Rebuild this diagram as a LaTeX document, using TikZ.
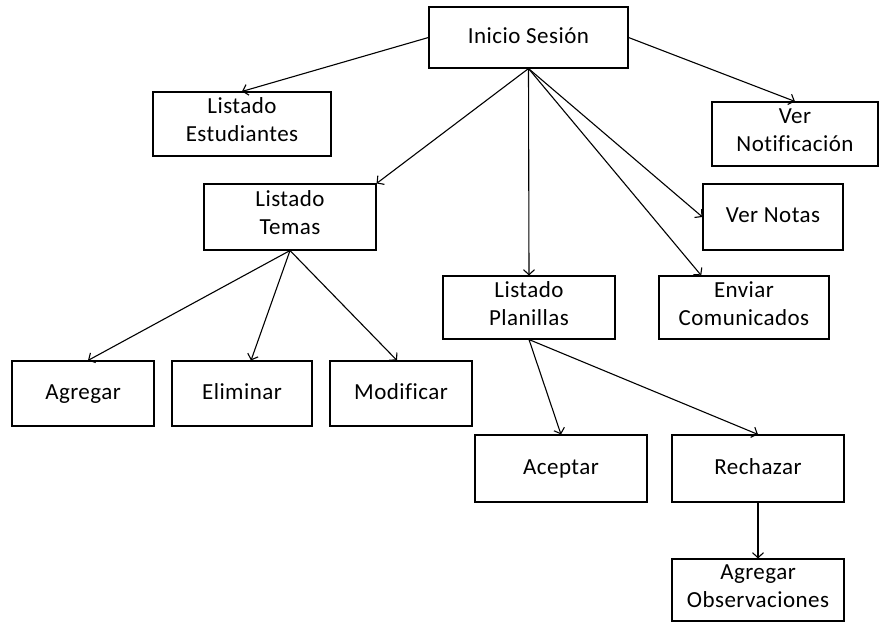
\documentclass[tikz,border=0pt]{standalone}
\usepackage{fontspec}
\setmainfont[LetterSpace=2,Ligatures=NoCommon]{Carlito}
\usetikzlibrary{arrows.meta,calc}
\tikzset{>={Straight Barb[length=5pt,width=11pt]}}
\tikzset{caja/.style={draw,line width=1.1pt,align=center,inner sep=0pt,font=\fontsize{23}{28}\selectfont,
    execute at begin node=\strut,execute at end node=\strut},
  flecha/.style={->,line width=1.1pt}}

\begin{document}
\begin{tikzpicture}[x=1pt,y=-1pt]
      \useasboundingbox (0,0) rectangle (879,623);

      % primer nivel
      \node[caja,minimum width=199pt,minimum height=61pt] (ini) at (528.5,37.5) {Inicio Sesión};
      \node[caja,minimum width=178pt,minimum height=64pt] (est) at (242,124) {Listado\\Estudiantes};
      \node[caja,minimum width=166pt,minimum height=64pt] (ntf) at (795,134) {Ver\\Notificación};
      \node[caja,minimum width=172pt,minimum height=66pt] (tem) at (290,217) {Listado\\Temas};
      \node[caja,minimum width=140pt,minimum height=66pt] (nta) at (773,217) {Ver Notas};
      \node[caja,minimum width=172pt,minimum height=63pt] (pla) at (529,307.5) {Listado\\Planillas};
      \node[caja,minimum width=170pt,minimum height=63pt] (env) at (744,307.5) {Enviar\\Comunicados};

      % temas
      \node[caja,minimum width=142pt,minimum height=65pt] (agr) at (83,393.5) {Agregar};
      \node[caja,minimum width=140pt,minimum height=65pt] (eli) at (242,393.5) {Eliminar};
      \node[caja,minimum width=142pt,minimum height=65pt] (mod) at (401,393.5) {Modificar};

      % planillas
      \node[caja,minimum width=172pt,minimum height=67pt] (acp) at (561,468.5) {Aceptar};
      \node[caja,minimum width=172pt,minimum height=67pt] (rec) at (758,468.5) {Rechazar};
      \node[caja,minimum width=172pt,minimum height=62pt] (obs) at (758,590) {Agregar\\Observaciones};

      \draw[flecha] (ini.west)--(est.north);
      \draw[flecha] (ini.east)--(ntf.north);
      \draw[flecha] (ini.south)--(tem.north east);
      \draw[flecha] (ini.south)--(pla.north);
      \draw[flecha] (ini.south)--(nta.west);
      \draw[flecha] (ini.south)--($(env.north west)!0.25!(env.north east)$);

      \draw[flecha] (tem.south)--([xshift=5pt]agr.north);
      \draw[flecha] (tem.south)--([xshift=9pt]eli.north);
      \draw[flecha] (tem.south)--([xshift=-4pt]mod.north);

      \draw[flecha] (pla.south)--(acp.north);
      \draw[flecha] (pla.south)--(rec.north);
      \draw[flecha] (rec.south)--(obs.north);
\end{tikzpicture}
\end{document}
